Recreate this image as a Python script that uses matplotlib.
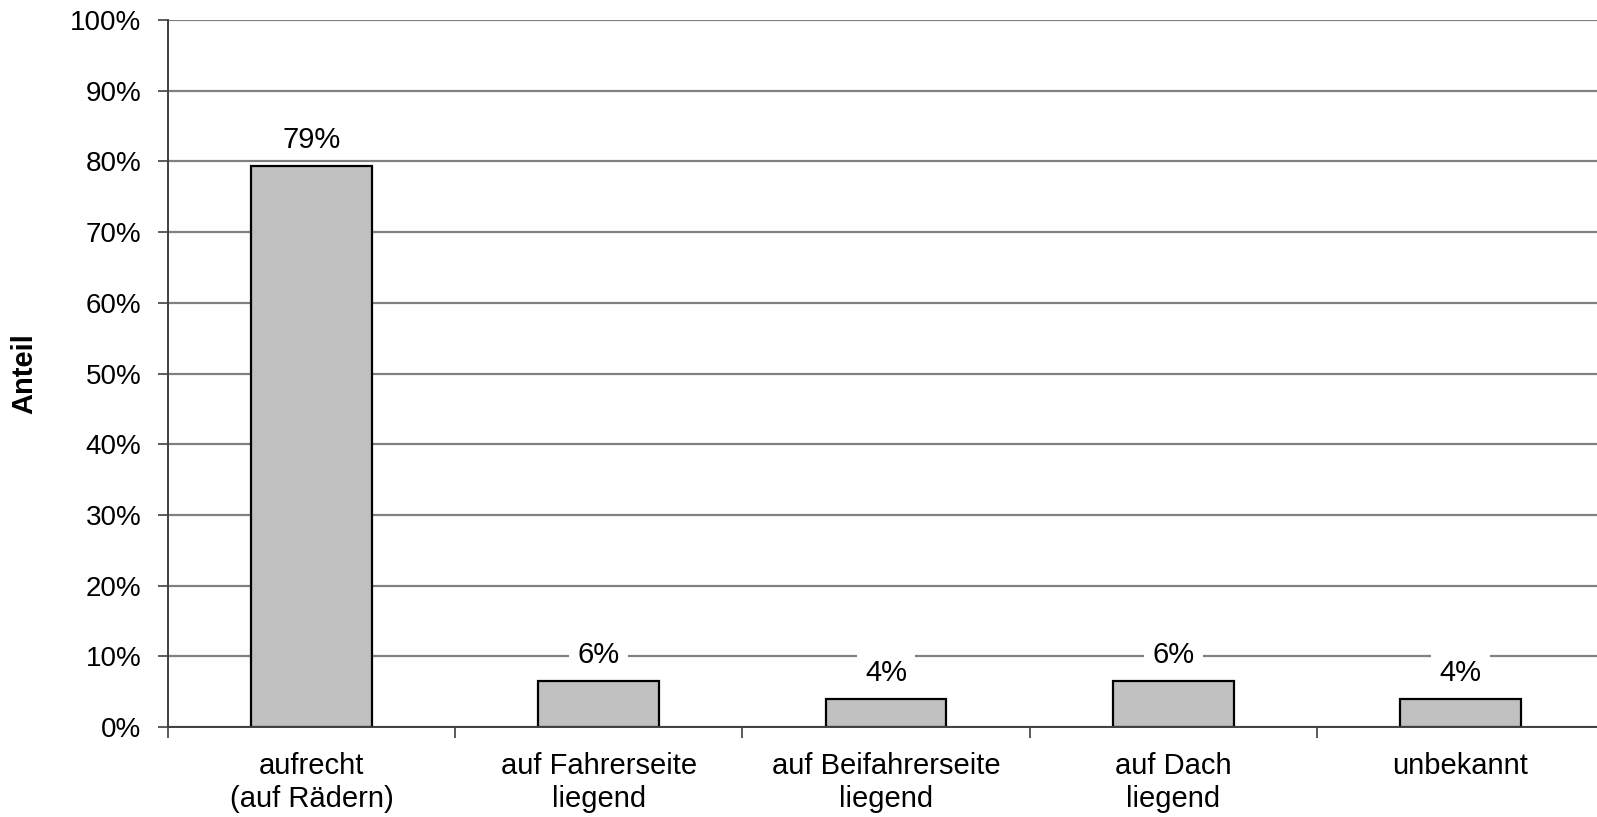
import numpy as np
import matplotlib.pyplot as plt
from matplotlib.ticker import FixedLocator, PercentFormatter

# Daten: Endlage des Fahrzeugs
kategorien = ['aufrecht\n(auf Rädern)', 'auf Fahrerseite\nliegend',
              'auf Beifahrerseite\nliegend', 'auf Dach\nliegend', 'unbekannt']
anteil = [79.3, 6.5, 3.9, 6.5, 3.9]
beschriftung = ['79%', '6%', '4%', '6%', '4%']

plt.rcParams['font.family'] = ['Liberation Sans', 'DejaVu Sans']

fig = plt.figure(figsize=(15.97, 8.17), dpi=100)
ax = fig.add_axes([168 / 1597, 1 - 727 / 817, (1604 - 168) / 1597, (727 - 20) / 817])

x = np.arange(len(kategorien))
ax.bar(x, anteil, width=0.42, color='#c0c0c0', edgecolor='black', linewidth=1.6, zorder=3)

# Werte über den Balken, weißer Hintergrund verdeckt die Gitterlinie
for xi, v, t in zip(x, anteil, beschriftung):
    rand = 6 if v < 10 else 2
    ax.text(xi, v + 1.7, t, ha='center', va='bottom', fontsize=21, zorder=4,
            bbox=dict(facecolor='white', edgecolor='none', pad=rand))

ax.set_xlim(-0.5, len(kategorien) - 0.5)
ax.set_ylim(0, 100)
ax.set_yticks(np.arange(0, 101, 10))
ax.yaxis.set_major_formatter(PercentFormatter(decimals=0))
ax.grid(axis='y', color='#808080', linewidth=1.6, zorder=0)

# Kategorienamen mittig, Teilstriche an den Grenzen
ax.set_xticks(x)
ax.set_xticklabels(kategorien, fontsize=21, linespacing=1.22)
ax.tick_params(axis='x', which='major', length=0, pad=18)
ax.xaxis.set_minor_locator(FixedLocator(np.arange(-0.5, len(kategorien), 1)))
ax.tick_params(axis='x', which='minor', length=8, width=1.2, color='#404040')
ax.tick_params(axis='y', length=7, width=1.2, color='#404040', labelsize=20, pad=12)

for s in ['top', 'right']:
    ax.spines[s].set_visible(False)
for s in ['left', 'bottom']:
    ax.spines[s].set_color('#404040')
    ax.spines[s].set_linewidth(1.4)
    ax.spines[s].set_zorder(5)

ax.set_ylabel('Anteil', fontsize=21, fontweight='bold')
ax.yaxis.set_label_coords(-0.09, 0.5)

fig.savefig('out.png', dpi=100)
